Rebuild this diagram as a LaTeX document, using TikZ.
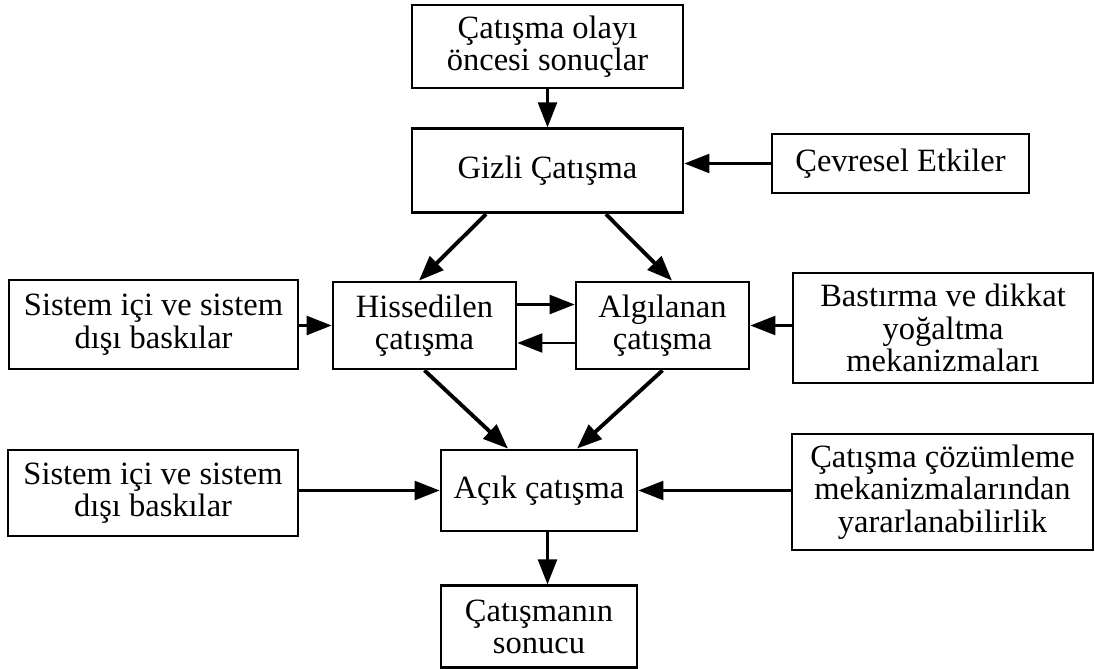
\documentclass[tikz,border=0pt]{standalone}
\usepackage{fontspec}
\setmainfont{Liberation Serif}
\usetikzlibrary{arrows.meta,positioning}

\begin{document}
\begin{tikzpicture}[
  x=0.02cm, y=-0.02cm,
  box/.style={draw, line width=1.6pt, align=center, inner sep=0pt, font=\fontsize{18.5}{18.5}\selectfont},
  arr/.style={-{Triangle[length=5mm, width=3.8mm]}, line width=1.4pt},
  diag/.style={arr, line width=2.2pt}
]
  \useasboundingbox (0,0) rectangle (1095,669);

  \node[box, minimum width=5.42cm, minimum height=1.66cm] (onc) at (547.5,46.5) {Çatışma olayı\\öncesi sonuçlar};
  \node[box, below=0.76cm of onc, minimum width=5.42cm, minimum height=1.68cm] (gizli) {Gizli Çatışma};
  \node[box, minimum width=5.14cm, minimum height=1.18cm] (cevre) at (900.5,163.5) {Çevresel Etkiler};

  \node[box, minimum width=5.78cm, minimum height=1.78cm] (sis1) at (153.5,324.5) {Sistem içi ve sistem\\dışı baskılar};
  \node[box, minimum width=3.66cm, minimum height=1.74cm] (hiss) at (424.5,325.5) {Hissedilen\\çatışma};
  \node[box, minimum width=3.46cm, minimum height=1.74cm] (alg) at (662.5,325.5) {Algılanan\\çatışma};
  \node[box, minimum width=6.0cm, minimum height=2.2cm] (bast) at (943,328) {Bastırma ve dikkat\\yoğaltma\\mekanizmaları};

  \node[box, minimum width=5.8cm, minimum height=1.72cm] (sis2) at (153,493) {Sistem içi ve sistem\\dışı baskılar};
  \node[box, minimum width=3.92cm, minimum height=1.62cm] (acik) at (539,490.5) {Açık çatışma};
  \node[box, minimum width=6.02cm, minimum height=2.32cm] (coz) at (942.5,492) {Çatışma çözümleme\\mekanizmalarından\\yararlanabilirlik};
  \node[box, below=1.04cm of acik, minimum width=3.92cm, minimum height=1.64cm] (son) {Çatışmanın\\sonucu};

  \draw[arr] (onc) -- (gizli);
  \draw[arr] (cevre.west) -- (cevre.west -| gizli.east);
  \draw[diag] ([xshift=-1.23cm]gizli.south) -- ([xshift=-0.11cm]hiss.north);
  \draw[diag] ([xshift=1.17cm]gizli.south) -- ([xshift=0.19cm]alg.north);
  \draw[arr] (sis1.east |- hiss.west) -- (hiss.west);
  \draw[arr] ([yshift=0.42cm]hiss.east) -- ([yshift=0.42cm]alg.west);
  \draw[arr] ([yshift=-0.35cm]alg.west) -- ([yshift=-0.35cm]hiss.east);
  \draw[arr] (bast.west |- alg.east) -- (alg.east);
  \draw[diag] (hiss.south) -- ([xshift=-0.62cm]acik.north);
  \draw[diag] (alg.south) -- ([xshift=0.76cm]acik.north);
  \draw[arr] (sis2.east |- acik.west) -- (acik.west);
  \draw[arr] (coz.west |- acik.east) -- (acik.east);
  \draw[arr] (acik.south -| onc.south) -- (son.north -| onc.south);
\end{tikzpicture}
\end{document}
